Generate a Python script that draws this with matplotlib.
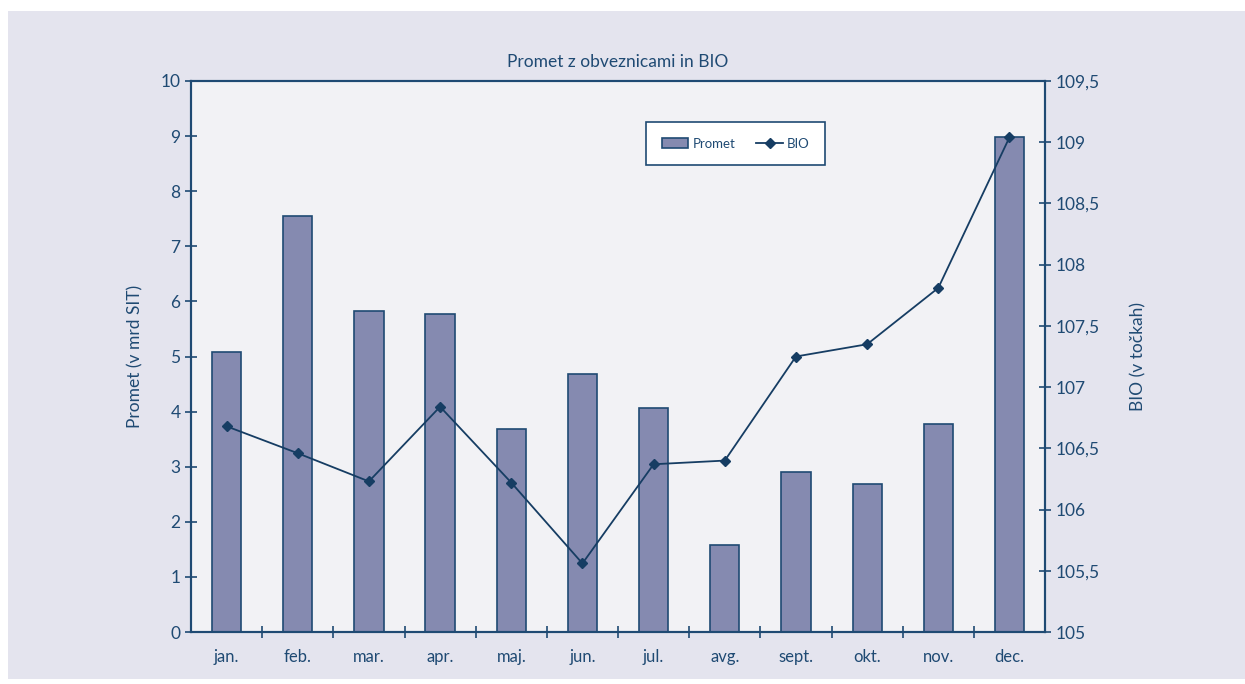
import numpy as np
import matplotlib.pyplot as plt
from matplotlib.patches import Rectangle

months = ["jan.", "feb.", "mar.", "apr.", "maj.", "jun.", "jul.", "avg.",
          "sept.", "okt.", "nov.", "dec."]
promet = [5.08, 7.55, 5.83, 5.77, 3.68, 4.68, 4.07, 1.58, 2.90, 2.69, 3.77, 8.98]
bio = [106.68, 106.46, 106.23, 106.84, 106.22, 105.56, 106.37, 106.40,
       107.25, 107.35, 107.81, 109.04]

navy = "#1f4a73"
bar_col = "#858ab0"
plt.rcParams["font.family"] = ["Lato", "DejaVu Sans"]
plt.rcParams["text.color"] = navy

fig = plt.figure(figsize=(12.45, 6.84), dpi=100, facecolor="white")
fig.patches.append(Rectangle((8 / 1245, 0.008), 1 - 8 / 1245, 1 - 11 / 684 - 0.008,
                             transform=fig.transFigure, facecolor="#e4e4ee",
                             edgecolor="none", zorder=-10))
ax = fig.add_axes([0.1534, 0.076, 0.686, 0.8056])
ax.set_facecolor("#f2f2f5")
x = np.arange(len(months))
ax.bar(x, promet, width=0.41, color=bar_col, edgecolor=navy, linewidth=1.2,
       label="Promet", zorder=2)
ax.set_xlim(-0.5, len(months) - 0.5)
ax.set_ylim(0, 10)
ax.set_yticks(range(0, 11))
ax.set_xticks(x)
ax.set_xticklabels(months)
ax.tick_params(axis="x", length=0, pad=12, labelsize=12, colors=navy)
ax.set_xticks(np.arange(0.5, len(months) - 0.5), minor=True)
ax.tick_params(axis="x", which="minor", direction="inout", length=9, color=navy, width=1.2)
ax.tick_params(axis="y", direction="inout", length=9, colors=navy, width=1.2,
               labelsize=12.5, pad=3)
ax.set_ylabel("Promet (v mrd SIT)", fontsize=12.5, color=navy, labelpad=12)
for s in ax.spines.values():
    s.set_color(navy)
    s.set_linewidth(1.5)

ax2 = ax.twinx()
ax2.plot(x, bio, color="#163d63", marker="D", markersize=5.5, linewidth=1.3,
         label="BIO", zorder=3)
ax2.set_ylim(105, 109.5)
ticks = np.arange(105, 109.51, 0.5)
ax2.set_yticks(ticks)
ax2.set_yticklabels([f"{t:g}".replace(".", ",") for t in ticks])
ax2.tick_params(axis="y", direction="inout", length=9, colors=navy, width=1.2,
                labelsize=12.5, pad=3)
ax2.set_ylabel("BIO (v točkah)", fontsize=12.5, color=navy, labelpad=22)
for s in ax2.spines.values():
    s.set_color(navy)
    s.set_linewidth(1.5)

ax.set_title("Promet z obveznicami in BIO", fontsize=12.5, color=navy, pad=10)

h1, l1 = ax.get_legend_handles_labels()
h2, l2 = ax2.get_legend_handles_labels()
leg = ax2.legend(h1 + h2, l1 + l2, loc="upper left", bbox_to_anchor=(0.533, 0.926),
                 borderaxespad=0, ncol=2, fancybox=False, frameon=True, fontsize=9.5,
                 edgecolor=navy, facecolor="white", framealpha=1,
                 borderpad=1.2, columnspacing=1.6, handlelength=2.0, handletextpad=0.3)
leg.get_frame().set_linewidth(1.2)
for t in leg.get_texts():
    t.set_color(navy)

fig.savefig("out.png", dpi=100, facecolor=fig.get_facecolor())
